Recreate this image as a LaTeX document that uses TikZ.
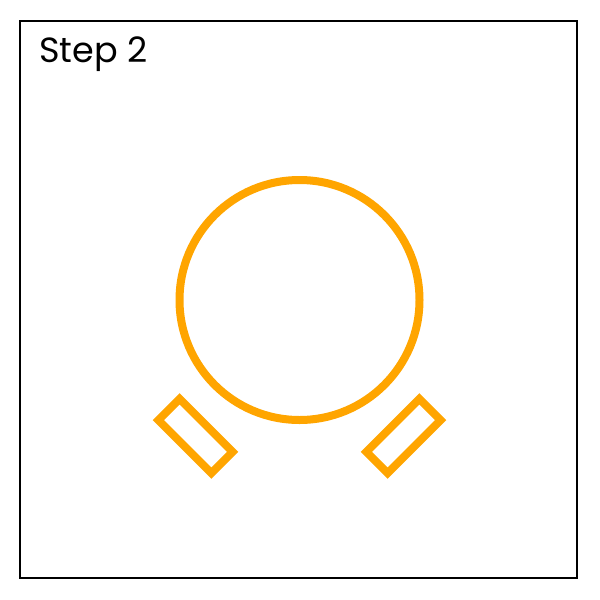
\documentclass[tikz,border=0pt]{standalone}
\usepackage{fontspec}
\setmainfont{Poppins}
\usepackage{tikz}
\definecolor{ringorange}{HTML}{FFA500}

\begin{document}
\begin{tikzpicture}[x=1pt,y=-1pt,
  part/.style={draw=ringorange,line width=8pt}]
\useasboundingbox (0,0) rectangle (600,600);
\draw[line width=2pt] (19.5,20.5) rectangle (576.5,577.5);
\node[anchor=base west,inner sep=0pt,font=\fontsize{35}{42}\selectfont] (title) at (39,62) {Step 2};
% ring
\draw[part] (299.5,300) circle (120);
% the two plates
\draw[part,shift={(195.5,436)},rotate=-45] (-37.5,-15) rectangle (37.5,15);
\draw[part,shift={(403.5,436)},rotate=45] (-37.5,-15) rectangle (37.5,15);
\end{tikzpicture}
\end{document}
